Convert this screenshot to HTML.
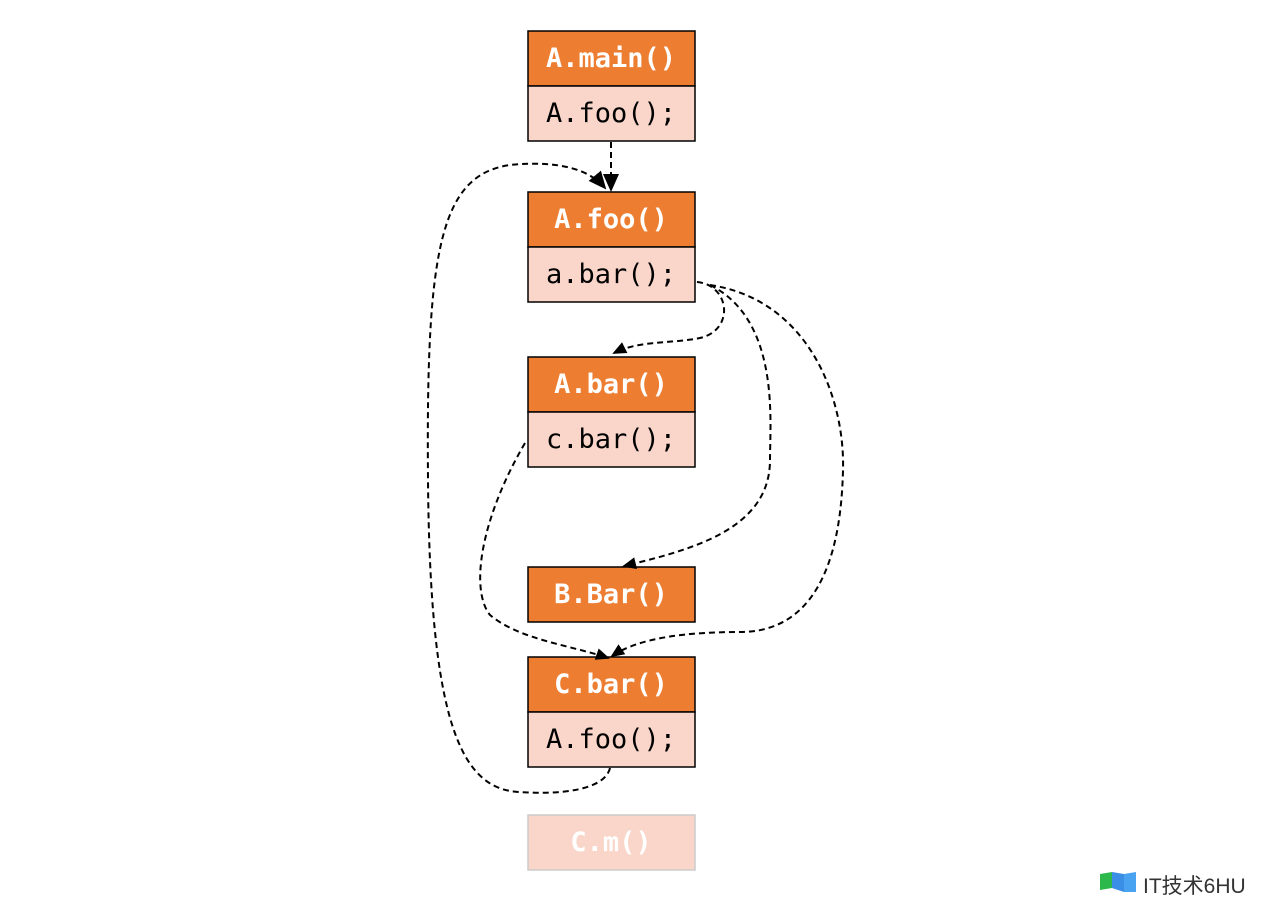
<!DOCTYPE html>
<html><head><style>
body{margin:0;background:#fff;width:1261px;height:903px;overflow:hidden}
svg{display:block}
.h{fill:#ED7D31;stroke:#000;stroke-width:1.5}
.b{fill:#F9D6C9;stroke:#000;stroke-width:1.5}
.ht{font-family:"DejaVu Sans Mono","Liberation Mono",monospace;font-weight:bold;font-size:27px;fill:#fff}
.bt{font-family:"DejaVu Sans Mono","Liberation Mono",monospace;font-size:27px;fill:#000}
.e{fill:none;stroke:#000;stroke-width:2;stroke-dasharray:6,4}
</style></head><body>
<svg width="1261" height="903" viewBox="0 0 1261 903">
<defs><marker id="a" markerWidth="14" markerHeight="14" refX="12" refY="7" orient="auto" markerUnits="userSpaceOnUse"><path d="M0,1 L14,7 L0,13z" fill="#000"/></marker>
<marker id="a2" markerWidth="18" markerHeight="16" refX="16" refY="8" orient="auto" markerUnits="userSpaceOnUse"><path d="M0,0 L18,8 L0,16z" fill="#000"/></marker></defs>
<g text-anchor="middle">
<rect class="h" x="528" y="31" width="167" height="55"/><text class="ht" x="611" y="67">A.main()</text>
<rect class="b" x="528" y="86" width="167" height="55"/><text class="bt" x="611" y="122">A.foo();</text>
<rect class="h" x="528" y="192" width="167" height="55"/><text class="ht" x="611" y="228">A.foo()</text>
<rect class="b" x="528" y="247" width="167" height="55"/><text class="bt" x="611" y="283">a.bar();</text>
<rect class="h" x="528" y="357" width="167" height="55"/><text class="ht" x="611" y="393">A.bar()</text>
<rect class="b" x="528" y="412" width="167" height="55"/><text class="bt" x="611" y="448">c.bar();</text>
<rect class="h" x="528" y="567" width="167" height="55"/><text class="ht" x="611" y="603">B.Bar()</text>
<rect class="h" x="528" y="657" width="167" height="55"/><text class="ht" x="611" y="693">C.bar()</text>
<rect class="b" x="528" y="712" width="167" height="55"/><text class="bt" x="611" y="748">A.foo();</text>
<rect x="528" y="815" width="167" height="55" fill="#F9D6C9" stroke="#ccc" stroke-width="1.5"/><text class="ht" x="611" y="851">C.m()</text>
</g>
<path class="e" d="M611,142 L611,190" marker-end="url(#a2)"/>
<path class="e" d="M610,768 C605,790 560,795 520,792 C460,790 430,720 428,480 C426,250 440,175 510,165 C560,160 590,170 605,188" marker-end="url(#a2)"/>
<path class="e" d="M697,282 C730,285 735,330 700,338 C670,344 640,340 614,353" marker-end="url(#a)"/>
<path class="e" d="M710,285 C780,320 770,420 770,460 C770,530 690,550 624,566" marker-end="url(#a)"/>
<path class="e" d="M710,285 C810,300 845,400 843,470 C840,600 790,632 740,632 C690,632 640,637 612,656" marker-end="url(#a)"/>
<path class="e" d="M525,443 C480,520 470,590 490,615 C520,640 570,645 608,658" marker-end="url(#a)"/>
<g transform="translate(1098,870)"><path d="M2,4 L14,2 L14,18 L2,20z" fill="#2db84c"/><path d="M14,2 L26,4 L26,22 L14,18z" fill="#3a8ee6"/><path d="M26,4 L38,2 L38,22 L26,22z" fill="#4aa3f0"/></g>
<text x="1143" y="893" font-family="Liberation Sans,'Noto Sans CJK SC',sans-serif" font-size="21" fill="#333">IT技术6HU</text>
</svg>
</body></html>
